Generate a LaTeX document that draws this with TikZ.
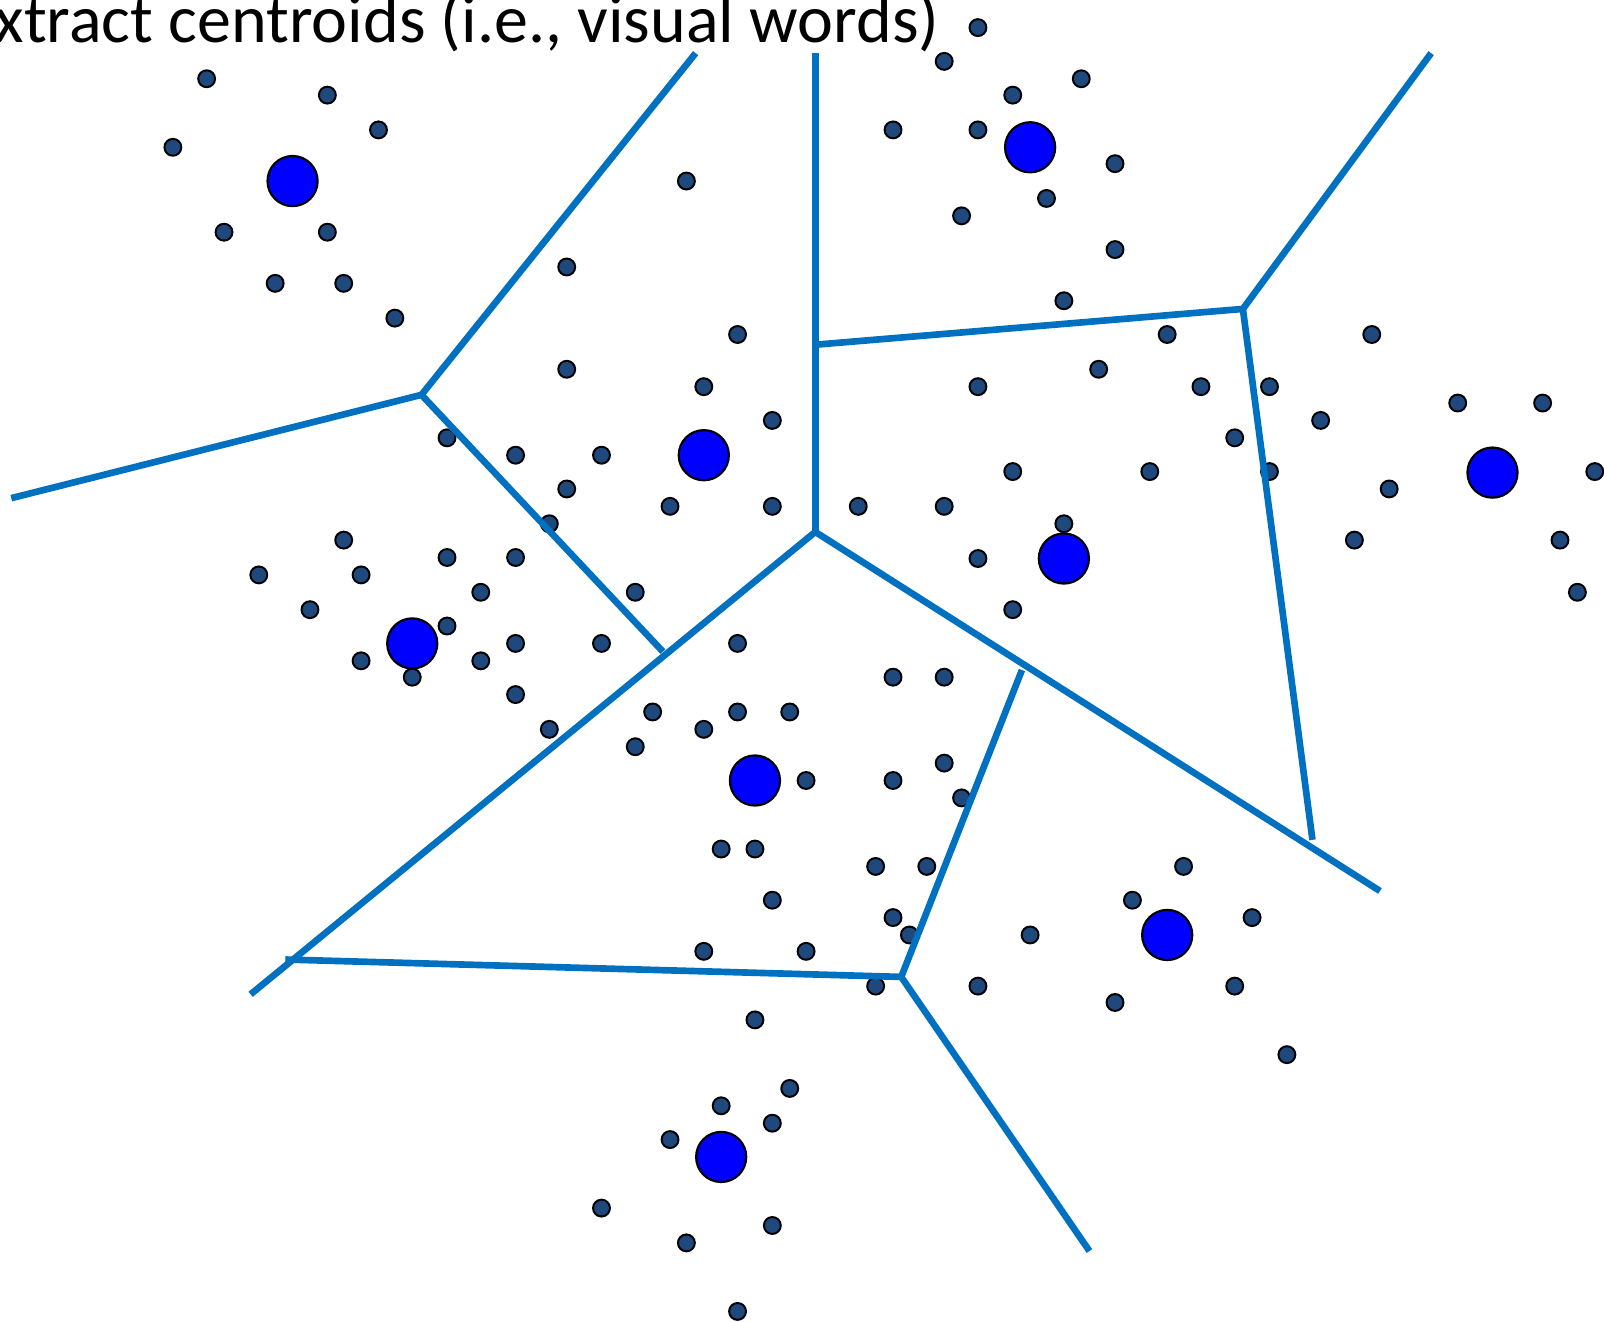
\documentclass[tikz,border=0pt]{standalone}
\usepackage{fontspec}
\setmainfont{Carlito}
\definecolor{cellline}{HTML}{0070C0}
\definecolor{ptfill}{HTML}{1F497D}
\definecolor{cfill}{HTML}{0000FF}

\begin{document}
\begin{tikzpicture}[x=0.01cm,y=-0.01cm,
  pt/.style={circle,draw=black,fill=ptfill,line width=.55pt,inner sep=0pt,minimum size=0.165cm},
  centroid/.style={circle,draw=black,fill=cfill,line width=.6pt,inner sep=0pt,minimum size=0.49cm},
  cellwall/.style={cellline,line width=1.85pt}]
 \useasboundingbox (0,0) rectangle (1568,1292);
 \node[anchor=base east,inner sep=0pt,font=\fontsize{18.9}{22}\selectfont] (title) at (919,42)
   {Extract centroids (i.e., visual words)};
 % descriptors
 \foreach \x/\y [count=\i] in {202/77,320/93,370/127,169/144,219/227,320/227,269/277,336/277,386/311,
   956/27,923/60,1057/77,990/93,873/127,956/127,1090/160,1023/194,940/211,1090/244,1040/294,
   671/177,554/261,721/327,554/361,688/378,755/411,437/428,504/445,588/445,554/478,655/495,755/495,537/512,
   1141/327,1074/361,956/378,1174/378,1241/378,1291/411,1207/428,990/461,1124/461,1241/461,839/495,923/495,1040/512,956/546,990/596,
   1341/327,1425/394,1508/394,1559/461,1358/478,1324/528,1525/528,1542/579,
   336/528,253/562,353/562,437/545,504/545,470/579,303/596,437/612,504/629,588/629,621/579,353/646,470/646,403/662,504/679,537/713,
   721/629,873/662,923/662,638/696,721/696,772/696,688/713,621/730,788/763,873/763,923/746,940/780,705/830,738/830,
   856/847,906/847,755/880,873/897,889/914,688/930,788/930,856/964,738/997,
   1157/847,1107/880,1224/897,1007/914,956/964,1090/980,1207/964,1258/1031,
   772/1064,705/1081,755/1098,655/1114,588/1181,755/1198,671/1215,721/1282}
   \node[pt] (p\i) at (\x,\y) {};
 % centroids
 \foreach \x/\y [count=\i] in {286/177,1007/144,688/445,1040/546,1459/462,403/629,738/763,1141/914,705/1131}
   \node[centroid] (c\i) at (\x,\y) {};
 % cell borders
 \coordinate (vA) at (412,386);
 \coordinate (vB) at (797,520);
 \coordinate (vC) at (1215,302);
 \coordinate (vD) at (881,955);
 \coordinate (vE) at (797,337);
 \coordinate (vF) at (279,938);
 \coordinate (eA) at (680,52);
 \coordinate (eB) at (11,487);
 \coordinate (eC) at (648,637);
 \coordinate (eD) at (797,52);
 \coordinate (eF) at (1399,52);
 \coordinate (eG) at (1283,821);
 \coordinate (eH) at (1349,871);
 \coordinate (eI) at (245,972);
 \coordinate (eK) at (999,655);
 \coordinate (eL) at (1065,1223);
 \draw[cellwall] (eA) -- (vA) -- (eB);
 \draw[cellwall] (vA) -- (eC);
 \draw[cellwall] (eD) -- (vB);
 \draw[cellwall] (vE) -- (vC) -- (eF);
 \draw[cellwall] (vC) -- (eG);
 \draw[cellwall] (vB) -- (eH);
 \draw[cellwall] (vB) -- (eI);
 \draw[cellwall] (vF) -- (vD) -- (eL);
 \draw[cellwall] (vD) -- (eK);
\end{tikzpicture}
\end{document}
